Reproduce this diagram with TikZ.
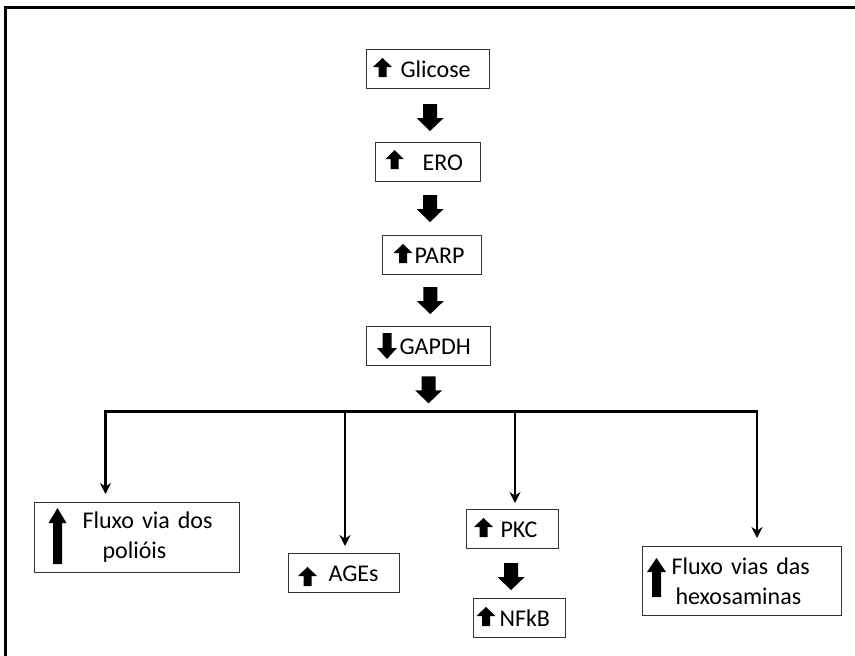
\documentclass[tikz,border=0pt]{standalone}
\usepackage{fontspec}
\setmainfont{Carlito}
\usetikzlibrary{arrows.meta,calc}
\newcommand\bt[3]{\makebox[#1pt][l]{\hspace*{#2pt}#3}}
% up glyph: centre x, bottom y, head width, height, shaft width, head height
\newcommand\upg[6]{\fill (#1-#5/2,#2) -- (#1+#5/2,#2) -- (#1+#5/2,#2-#4+#6) -- (#1+#3/2,#2-#4+#6) -- (#1,#2-#4) -- (#1-#3/2,#2-#4+#6) -- (#1-#5/2,#2-#4+#6) -- cycle;}
% down glyph: centre x, top y, head width, height, shaft width, head height
\newcommand\dng[6]{\fill (#1-#5/2,#2) -- (#1+#5/2,#2) -- (#1+#5/2,#2+#4-#6) -- (#1+#3/2,#2+#4-#6) -- (#1,#2+#4) -- (#1-#3/2,#2+#4-#6) -- (#1-#5/2,#2+#4-#6) -- cycle;}
\begin{document}
\begin{tikzpicture}[x=1pt,y=-1pt,
  box/.style={draw=black!80, line width=1.1pt, inner sep=0pt, font=\fontsize{24}{30}\selectfont, text height=28pt, text depth=11pt, anchor=north west},
  boxtwo/.style={draw=black!80, line width=1.1pt, inner xsep=0pt, inner ysep=0pt, font=\fontsize{24}{30}\selectfont, align=left, anchor=north west},
  conn/.style={line width=2.4pt, -{Stealth[length=11pt,width=11pt]}},
  bdown/.pic={\fill (-7,-13.5) -- (7,-13.5) -- (7,0.5) -- (13.5,0.5) -- (0,13.5) -- (-13.5,0.5) -- (-7,0.5) -- cycle;}
  ]
\useasboundingbox (0,0) rectangle (855,656);
\fill[white] (0,0) rectangle (855,656);
% frame
\draw[line width=3pt] (5.5,662) -- (5.5,7.5) -- (862,7.5);

% boxes
\node[box] (glicose) at (366,49) {\bt{123}{34}{Glicose}};
\node[box] (ero) at (375,142) {\bt{105}{47}{ERO}};
\node[box] (parp) at (382,235) {\bt{99}{32}{PARP}};
\node[box] (gapdh) at (366,326) {\bt{124}{33}{GAPDH}};
\node[box] (ages) at (288,553) {\bt{111}{40}{AGEs}};
\node[box] (pkc) at (466,509) {\bt{92}{34}{PKC}};
\node[box] (nfkb) at (473,598) {\bt{92}{26}{NFkB}};
\node[boxtwo, text width=205pt, minimum height=70pt] (poliois) at (34,502) {\hspace*{48pt}Fluxo via dos\\\hspace*{68pt}polióis};
\node[boxtwo, text width=199pt, minimum height=69pt] (hexo) at (642,546) {\hspace*{29pt}Fluxo vias das\\\hspace*{33pt}hexosaminas};

% glyphs inside boxes
\upg{382.5}{77}{19}{19}{8}{9}
\upg{394.5}{169}{18}{19}{8}{9}
\upg{403}{263}{19}{19}{8}{9}
\dng{387}{333}{20}{26}{9}{11}
\upg{307.5}{586}{19}{19}{8}{9}
\upg{483.5}{537}{19}{19}{8}{9}
\upg{486}{626}{19}{19}{8}{9}
\upg{57.5}{564}{18}{56}{9}{15}
\upg{656.5}{597}{19}{39}{9}{14}

% bus
\coordinate (bl) at (105.5,411.5);
\coordinate (br) at (757,411.5);
\coordinate (bm1) at (345,411.5);
\coordinate (bm2) at (515,411.5);

% block arrows between boxes
\pic at ($(glicose.south)!0.5!(ero.north)+(2,2)$) {bdown};
\pic at ($(ero.south)!0.5!(parp.north)$) {bdown};
\pic at ($(parp.south)!0.5!(gapdh.north)$) {bdown};
\pic at ($(gapdh.south)!0.5!(gapdh.south|-bl)+(0,1)$) {bdown};
\pic at ($(pkc.south)!0.5!(nfkb.north)+(-5,3)$) {bdown};

% connectors
\draw[line width=2.4pt, {Stealth[length=11pt,width=11pt]}-{Stealth[length=11pt,width=11pt]}]
  ([yshift=8pt]poliois.north -| bl) -- (bl) -- (br) -- ([yshift=8pt]hexo.north -| br);
\draw[conn] (bm1) -- ([yshift=7pt]ages.north -| bm1);
\draw[conn] (bm2) -- ([yshift=6pt]pkc.north -| bm2);
\end{tikzpicture}
\end{document}
